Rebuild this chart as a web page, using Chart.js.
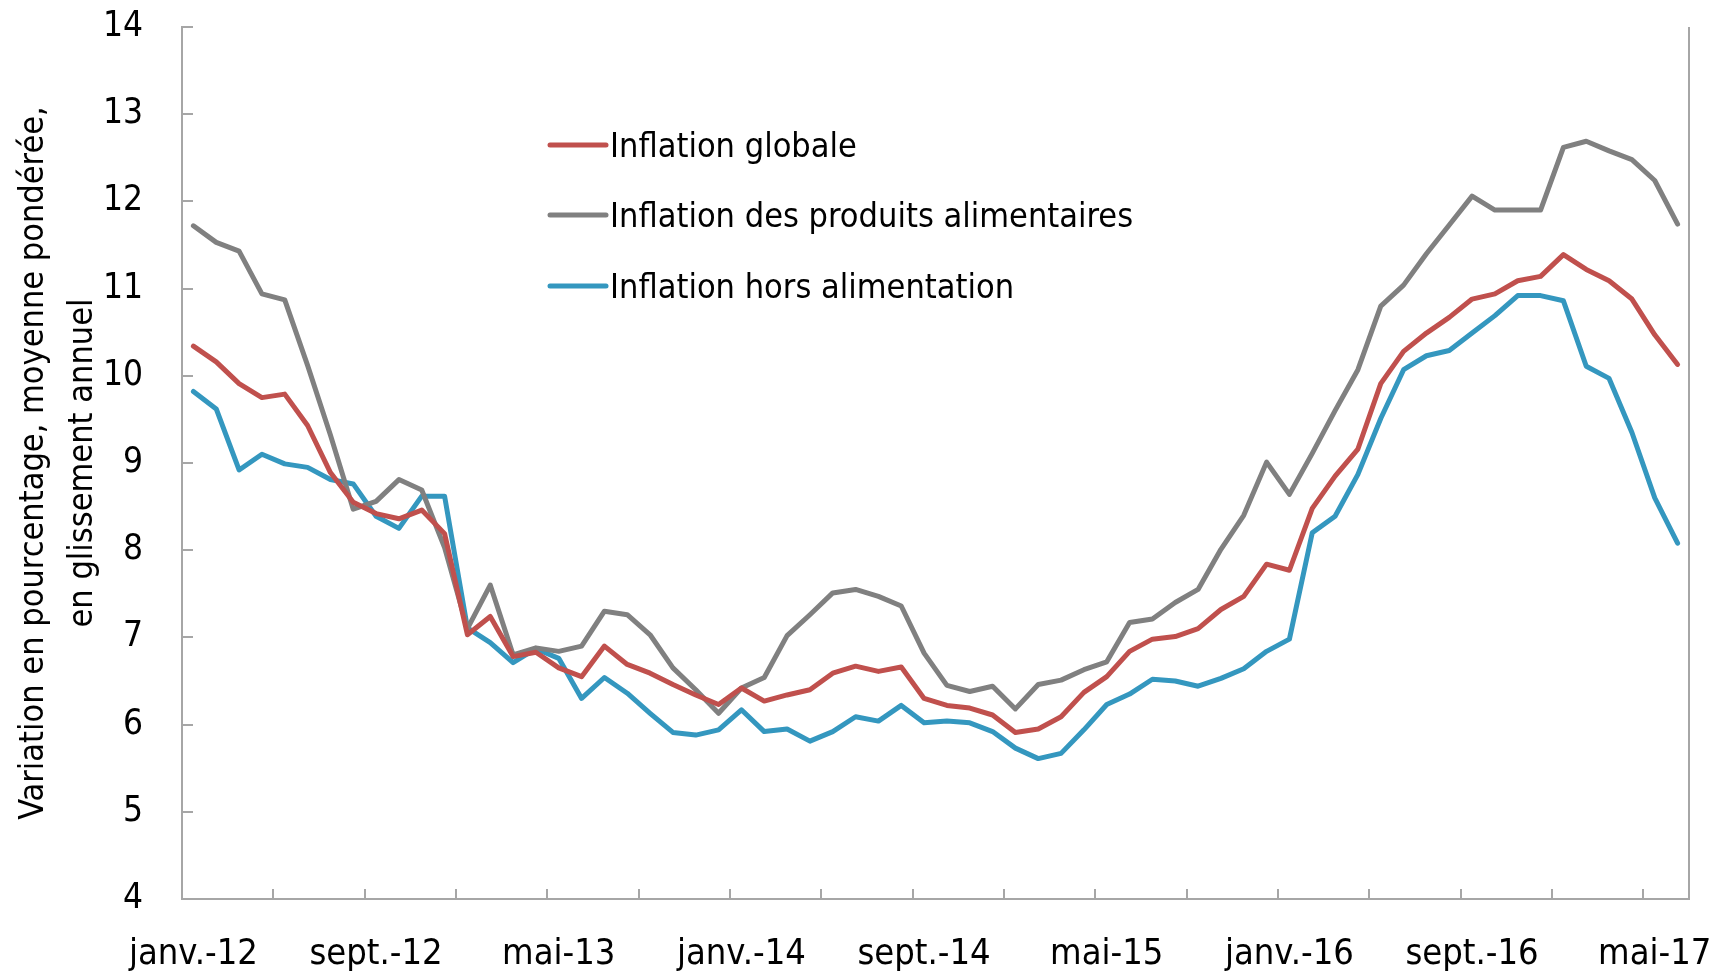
<!DOCTYPE html>
<html>
<head>
<meta charset="utf-8">
<script src="https://cdn.jsdelivr.net/npm/chart.js@4.4.1/dist/chart.umd.min.js"></script>
<style>
  html, body { margin: 0; padding: 0; background: #fff; }
  #chart { display: block; }
</style>
</head>
<body>
<canvas id="chart" width="1713" height="974"></canvas>
<script>
/* Data */
const categories = [
  'janv.-12', 'févr.-12', 'mars-12', 'avr.-12', 'mai-12', 'juin-12', 'juil.-12', 'août-12', 'sept.-12', 'oct.-12', 'nov.-12', 'déc.-12',
  'janv.-13', 'févr.-13', 'mars-13', 'avr.-13', 'mai-13', 'juin-13', 'juil.-13', 'août-13', 'sept.-13', 'oct.-13', 'nov.-13', 'déc.-13',
  'janv.-14', 'févr.-14', 'mars-14', 'avr.-14', 'mai-14', 'juin-14', 'juil.-14', 'août-14', 'sept.-14', 'oct.-14', 'nov.-14', 'déc.-14',
  'janv.-15', 'févr.-15', 'mars-15', 'avr.-15', 'mai-15', 'juin-15', 'juil.-15', 'août-15', 'sept.-15', 'oct.-15', 'nov.-15', 'déc.-15',
  'janv.-16', 'févr.-16', 'mars-16', 'avr.-16', 'mai-16', 'juin-16', 'juil.-16', 'août-16', 'sept.-16', 'oct.-16', 'nov.-16', 'déc.-16',
  'janv.-17', 'févr.-17', 'mars-17', 'avr.-17', 'mai-17', 'juin-17'
];

const inflationGlobale = [
  10.34, 10.16, 9.91, 9.75, 9.79, 9.43, 8.89, 8.55, 8.42, 8.36, 8.46, 8.19,
  7.03, 7.24, 6.78, 6.83, 6.65, 6.55, 6.90, 6.69, 6.59, 6.46, 6.34, 6.23,
  6.42, 6.27, 6.34, 6.40, 6.59, 6.67, 6.61, 6.66, 6.30, 6.22, 6.19, 6.11,
  5.91, 5.95, 6.09, 6.37, 6.55, 6.84, 6.98, 7.01, 7.10, 7.32, 7.47, 7.84,
  7.77, 8.48, 8.85, 9.16, 9.91, 10.28, 10.49, 10.67, 10.88, 10.94, 11.09, 11.14,
  11.39, 11.22, 11.09, 10.88, 10.47, 10.13
];

const inflationAlimentaire = [
  11.72, 11.53, 11.43, 10.94, 10.87, 10.12, 9.32, 8.47, 8.56, 8.81, 8.69, 8.03,
  7.10, 7.60, 6.80, 6.88, 6.84, 6.90, 7.30, 7.26, 7.03, 6.65, 6.40, 6.13,
  6.42, 6.54, 7.02, 7.26, 7.51, 7.55, 7.47, 7.36, 6.82, 6.45, 6.38, 6.44,
  6.18, 6.46, 6.51, 6.63, 6.72, 7.17, 7.21, 7.40, 7.55, 8.01, 8.40, 9.01,
  8.64, 9.11, 9.60, 10.07, 10.80, 11.04, 11.40, 11.73, 12.06, 11.90, 11.90, 11.90,
  12.62, 12.69, 12.58, 12.48, 12.24, 11.74
];

const inflationHorsAlim = [
  9.82, 9.62, 8.92, 9.10, 8.99, 8.95, 8.81, 8.76, 8.39, 8.25, 8.62, 8.62,
  7.11, 6.94, 6.71, 6.87, 6.76, 6.30, 6.54, 6.36, 6.13, 5.91, 5.88, 5.94,
  6.17, 5.92, 5.95, 5.81, 5.92, 6.09, 6.04, 6.22, 6.02, 6.04, 6.02, 5.92,
  5.73, 5.61, 5.67, 5.94, 6.23, 6.35, 6.52, 6.50, 6.44, 6.53, 6.64, 6.84,
  6.98, 8.20, 8.39, 8.87, 9.51, 10.07, 10.23, 10.29, 10.49, 10.69, 10.92, 10.92,
  10.86, 10.11, 9.97, 9.35, 8.60, 8.08
];

const seriesLabels = ['Inflation globale', 'Inflation des produits alimentaires', 'Inflation hors alimentation'];
const yTitle = ['Variation en pourcentage, moyenne pondérée,', 'en glissement annuel'];

/* Styles */
const FONT = "'DejaVu Sans Condensed', 'Liberation Sans Narrow', sans-serif";
const axisColor = '#A6A6A6';
const colors = ['#C0504D', '#808080', '#3497BF'];

/* Inside tick marks, right border */
const insideTicks = {
  id: 'insideTicks',
  afterDraw(chart) {
    const { ctx, chartArea: a, scales: { x, y } } = chart;
    ctx.save();
    ctx.strokeStyle = axisColor;
    ctx.lineWidth = 2;
    ctx.beginPath();
    y.ticks.forEach(function (t) {
      const py = Math.round(y.getPixelForValue(t.value));
      ctx.moveTo(a.left, py);
      ctx.lineTo(a.left + 11, py);
    });
    for (let k = 4; k < categories.length; k += 4) {
      const px = Math.round(x.getPixelForValue(k - 0.5));
      ctx.moveTo(px, a.bottom);
      ctx.lineTo(px, a.bottom - 10);
    }
    ctx.moveTo(a.right, a.top);
    ctx.lineTo(a.right, a.bottom);
    ctx.stroke();
    ctx.restore();
  }
};

/* Legend drawn inside the plot */
const innerLegend = {
  id: 'innerLegend',
  afterDraw(chart) {
    const ctx = chart.ctx;
    const x0 = 550, x1 = 606, rowY = [145, 215, 286];
    ctx.save();
    ctx.font = '34px ' + FONT;
    ctx.textBaseline = 'alphabetic';
    ctx.fillStyle = '#000';
    chart.data.datasets.forEach(function (ds, i) {
      ctx.strokeStyle = ds.borderColor;
      ctx.lineWidth = 5;
      ctx.lineCap = 'round';
      ctx.beginPath();
      ctx.moveTo(x0, rowY[i]);
      ctx.lineTo(x1, rowY[i]);
      ctx.stroke();
      ctx.fillText(ds.label, x1 + 4, rowY[i] + 12);
    });
    ctx.restore();
  }
};

const ctx = document.getElementById('chart').getContext('2d');

const chart = new Chart(ctx, {
  type: 'line',
  data: {
    labels: categories,
    datasets: [
      { label: seriesLabels[0], data: inflationGlobale, borderColor: colors[0] },
      { label: seriesLabels[1], data: inflationAlimentaire, borderColor: colors[1] },
      { label: seriesLabels[2], data: inflationHorsAlim, borderColor: colors[2] }
    ]
  },
  options: {
    responsive: false,
    devicePixelRatio: 1,
    animation: false,
    datasets: {
      line: {
        borderWidth: 5,
        pointRadius: 0,
        tension: 0,
        borderJoinStyle: 'round',
        borderCapStyle: 'round',
        fill: false
      }
    },
    layout: { padding: { top: 27, right: 24, left: 0, bottom: 0 } },
    plugins: {
      legend: { display: false },
      tooltip: { enabled: false }
    },
    scales: {
      x: {
        offset: true,
        grid: { display: false, drawTicks: false },
        border: { display: true, color: axisColor, width: 2 },
        ticks: {
          autoSkip: false,
          maxRotation: 0,
          minRotation: 0,
          padding: 34,
          color: '#000',
          font: { family: FONT, size: 36 },
          callback: function (val, i) { return i % 8 === 0 ? categories[i] : ''; }
        },
        afterFit: function (axis) {
          axis.height = 75;
          axis.paddingLeft = 0;
          axis.paddingRight = 0;
        }
      },
      y: {
        min: 4,
        max: 14,
        grid: { drawOnChartArea: false, drawTicks: false },
        border: { display: true, color: axisColor, width: 2 },
        ticks: {
          stepSize: 1,
          padding: 39,
          color: '#000',
          font: { family: FONT, size: 35 }
        },
        title: {
          display: true,
          text: yTitle,
          color: '#000',
          font: { family: FONT, size: 34, lineHeight: 1.44 },
          padding: { top: 10, bottom: 0 }
        },
        afterFit: function (axis) {
          axis.width = 182;
          axis.paddingTop = 0;
          axis.paddingBottom = 0;
        }
      }
    }
  },
  plugins: [insideTicks, innerLegend]
});
</script>
</body>
</html>
